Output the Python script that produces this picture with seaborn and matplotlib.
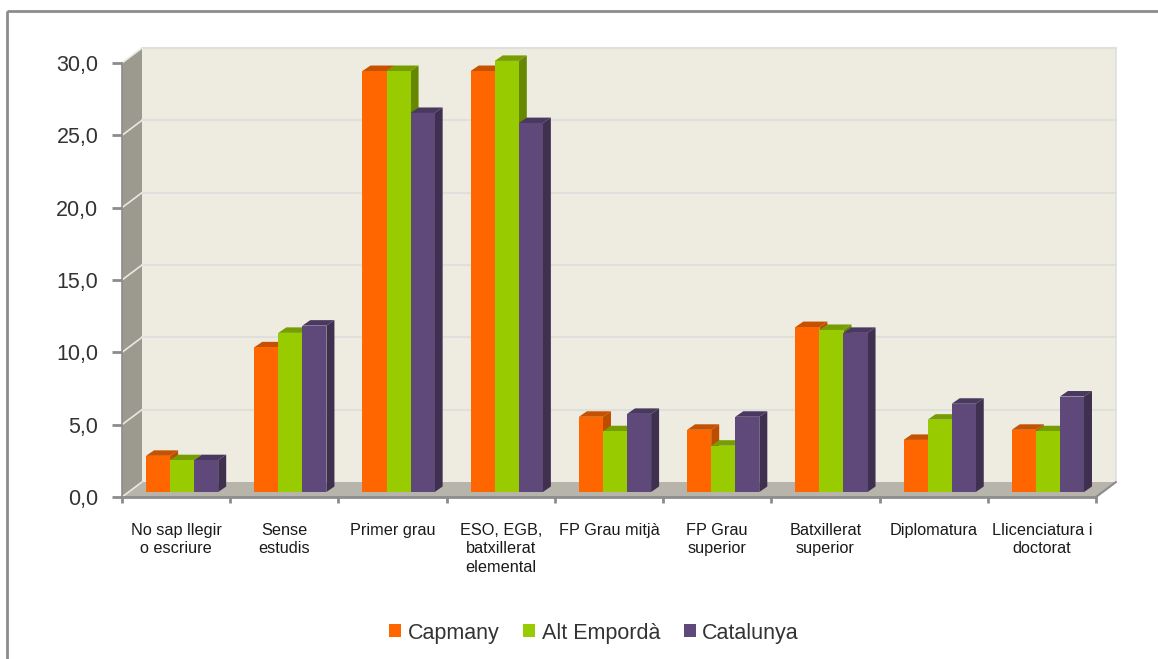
import pandas as pd
import seaborn as sns
import matplotlib.pyplot as plt
from matplotlib.patches import Polygon, Rectangle
from matplotlib.transforms import Affine2D

categories = ['No sap llegir\no escriure', 'Sense\nestudis', 'Primer grau',
              'ESO, EGB,\nbatxillerat\nelemental', 'FP Grau mitjà', 'FP Grau\nsuperior',
              'Batxillerat\nsuperior', 'Diplomatura', 'Llicenciatura i\ndoctorat']
capmany = [2.5, 10.0, 29.1, 29.1, 5.2, 4.3, 11.4, 3.6, 4.3]
alt_emporda = [2.2, 11.0, 29.1, 29.8, 4.2, 3.2, 11.2, 5.0, 4.2]
catalunya = [2.2, 11.5, 26.2, 25.5, 5.4, 5.2, 11.0, 6.1, 6.6]
yticks = [0, 5, 10, 15, 20, 25, 30]

series = ['Capmany', 'Alt Empordà', 'Catalunya']
colors = ['#ff6600', '#99cc00', '#5f497a']
top_colors = ['#c55200', '#779e00', '#493960']
side_colors = ['#bb4c00', '#668800', '#3f3050']

W, H = 1158, 659
sns.set_style('white')
plt.rcParams['font.family'] = ['Liberation Sans', 'DejaVu Sans']

df = pd.DataFrame({'cat': categories, 'Capmany': capmany,
                   'Alt Empordà': alt_emporda, 'Catalunya': catalunya})
long_df = df.melt(id_vars='cat', var_name='serie', value_name='val')

fig = plt.figure(figsize=(W / 100, H / 100), dpi=100)
# axes placed on the front edge of the fake 3D box
x0, x1, y0, y1 = 122, 1096, 497, 63
ax = fig.add_axes([x0 / W, 1 - y0 / H, (x1 - x0) / W, (y0 - y1) / H])
ax.patch.set_alpha(0)
ax.set_zorder(2)

sns.barplot(data=long_df, x='cat', y='val', hue='serie', palette=colors, hue_order=series,
            width=0.667, gap=0, saturation=1, ax=ax, legend=False, zorder=5)
ax.set_xlim(-0.5, 8.5)
ax.set_ylim(0, 30)
fig.canvas.draw()

px = Affine2D().scale(1, -1).translate(0, H)  # image pixels -> display


def box_poly(pts, **kw):
    fig.add_artist(Polygon(pts, closed=True, transform=px, **kw))


# walls and floor
dx, dy = 20, 15
box_poly([(x0, y0), (x0 + dx, y0 - dy), (x0 + dx, y1 - dy), (x0, y1)],
         fc='#9c998f', ec='none', zorder=0)
box_poly([(x0 + dx, y0 - dy), (x1 + dx, y0 - dy), (x1 + dx, y1 - dy), (x0 + dx, y1 - dy)],
         fc='#eeece1', ec='none', zorder=0)
box_poly([(x0, y0), (x1, y0), (x1 + dx, y0 - dy), (x0 + dx, y0 - dy)],
         fc='#b7b4ac', ec='none', zorder=0.1)
# gridlines on the walls
for t in yticks:
    yp = y0 + (y1 - y0) * t / 30
    if t > 0:
        fig.add_artist(plt.Line2D([x0 + dx, x1 + dx], [yp - dy, yp - dy], transform=px,
                                  color='#dfdfdc', lw=1.5, zorder=0.5))
    fig.add_artist(plt.Line2D([x0, x0 + dx], [yp, yp - dy], transform=px,
                              color='#e8e8e4', lw=1.2, zorder=0.5))
fig.add_artist(plt.Line2D([x1 + dx, x1 + dx], [y0 - dy, y1 - dy], transform=px,
                          color='#dfdfdc', lw=1.2, zorder=0.5))
fig.add_artist(plt.Line2D([x1, x1 + dx], [y0, y0 - dy], transform=px,
                          color='#8c8c8c', lw=1.5, zorder=0.5))
# chart border, runs off the right and bottom
fig.add_artist(Rectangle((7, 11), 1300, 800, transform=px, fill=False,
                         ec='#8c8c8c', lw=2, zorder=0.2))

# shift bars into the box and add the 3D faces
shift = ax.transData + Affine2D().translate(6, 5)
d_x, d_y = 8, 5.5
for i, cont in enumerate(ax.containers):
    for bar in cont:
        bar.set_transform(shift)
        bar.set_edgecolor('none')
        bar.set_clip_on(False)
        xa, w, h = bar.get_x(), bar.get_width(), bar.get_height()
        (l, b), (r, t) = shift.transform([(xa, 0), (xa + w, h)])
        top = Polygon([(l, t), (r, t), (r + d_x, t + d_y), (l + d_x, t + d_y)],
                      transform=None, fc=top_colors[i], ec='none', zorder=4)
        side = Polygon([(r, b), (r + d_x, b + d_y), (r + d_x, t + d_y), (r, t)],
                       transform=None, fc=side_colors[i], ec='none', zorder=4)
        ax.add_artist(top)
        ax.add_artist(side)
        top.set_clip_on(False)
        side.set_clip_on(False)

sns.despine(ax=ax, top=True, right=True)
ax.spines['left'].set_color('#8c8c8c')
ax.spines['left'].set_linewidth(1.2)
ax.spines['bottom'].set_color('#8c8c8c')
ax.spines['bottom'].set_linewidth(2)
ax.set_yticks(yticks)
ax.set_yticklabels([f'{t:.1f}'.replace('.', ',') for t in yticks], fontsize=15.5, color='#333333')
ax.set_xticks([i - 0.5 for i in range(10)], minor=True)
ax.tick_params(axis='x', which='minor', length=4.5, width=2, color='#8c8c8c', bottom=True)
ax.tick_params(axis='x', which='major', length=0, pad=18.5, labelsize=11.7, labelcolor='#1a1a1a')
ax.tick_params(axis='y', length=7, width=2, color='#8c8c8c', left=True, pad=10)
ax.set_xlabel('')
ax.set_ylabel('')
for lab in ax.get_xticklabels():
    lab.set_linespacing(1.3)

handles = [Rectangle((0, 0), 1, 1, fc=c, ec='none') for c in colors]
fig.legend(handles, series, loc='center', bbox_to_anchor=(594 / W, 1 - 633 / H), ncol=3,
           frameon=False, fontsize=15.5, handlelength=0.56, handleheight=0.56,
           handletextpad=0.3, columnspacing=1.1, labelcolor='#333333')

fig.savefig('out.png', dpi=100)
